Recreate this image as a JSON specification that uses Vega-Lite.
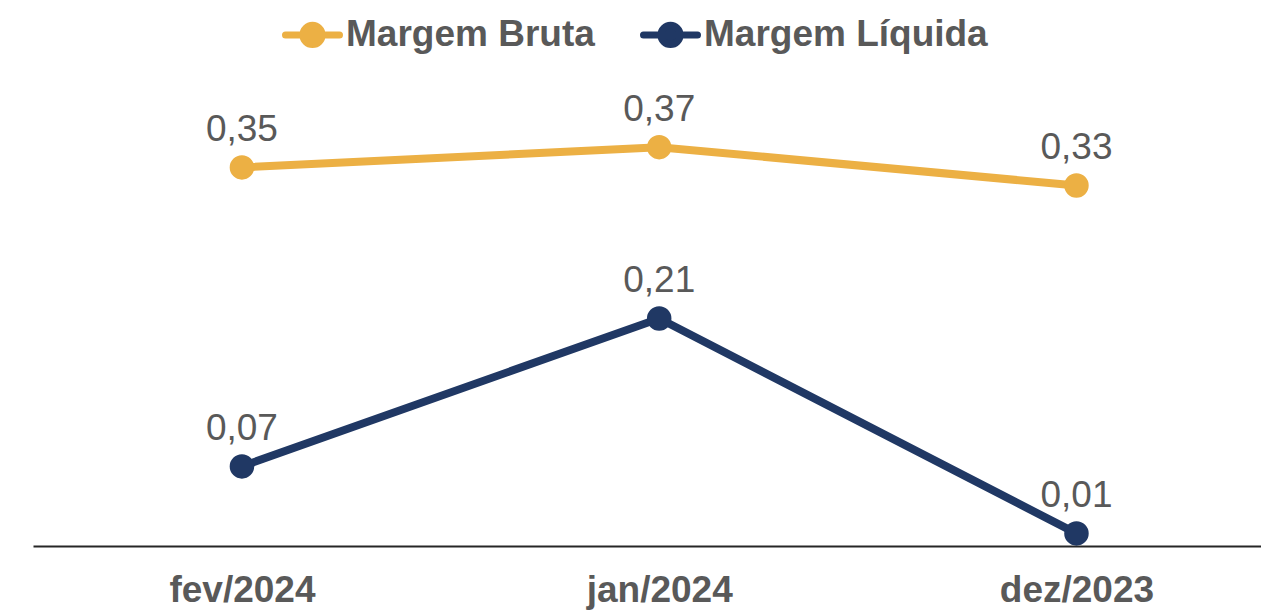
{
  "$schema": "https://vega.github.io/schema/vega-lite/v6.json",
  "width": 1228,
  "height": 532,
  "autosize": "none",
  "padding": {"left": 33, "top": 11, "right": 0, "bottom": 68},
  "background": "white",
  "config": {
    "view": {"stroke": null},
    "font": "Liberation Sans"
  },
  "data": {
    "values": [
      {"periodo": "fev/2024", "serie": "Margem Bruta", "valor": 0.353, "rotulo": "0,35"},
      {"periodo": "jan/2024", "serie": "Margem Bruta", "valor": 0.372, "rotulo": "0,37"},
      {"periodo": "dez/2023", "serie": "Margem Bruta", "valor": 0.336, "rotulo": "0,33"},
      {"periodo": "fev/2024", "serie": "Margem Líquida", "valor": 0.072, "rotulo": "0,07"},
      {"periodo": "jan/2024", "serie": "Margem Líquida", "valor": 0.211, "rotulo": "0,21"},
      {"periodo": "dez/2023", "serie": "Margem Líquida", "valor": 0.009, "rotulo": "0,01"}
    ]
  },
  "encoding": {
    "x": {
      "field": "periodo",
      "type": "ordinal",
      "sort": ["fev/2024", "jan/2024", "dez/2023"],
      "scale": {"type": "point", "padding": 0.4715, "align": 0.531},
      "axis": {
        "title": null,
        "offset": 3,
        "domainColor": "#262626",
        "domainWidth": 2,
        "ticks": false,
        "tickSize": 0,
        "grid": false,
        "labelAngle": 0,
        "labelFont": "Liberation Sans",
        "labelFontSize": 37,
        "labelFontWeight": "bold",
        "labelColor": "#595959",
        "labelBaseline": "alphabetic",
        "labelPadding": 55
      }
    },
    "y": {
      "field": "valor",
      "type": "quantitative",
      "scale": {"domain": [0, 0.5], "nice": false, "zero": true},
      "axis": null
    },
    "color": {
      "field": "serie",
      "type": "nominal",
      "scale": {"domain": ["Margem Bruta", "Margem Líquida"], "range": ["#ECB044", "#203864"]},
      "legend": {
        "title": null,
        "orient": "none",
        "direction": "horizontal",
        "legendX": 246,
        "legendY": -10,
        "padding": 0,
        "symbolType": "M-0.9,0L0.9,0M-0.32,0A0.32,0.32,0,1,1,0.32,0A0.32,0.32,0,1,1,-0.32,0Z",
        "symbolSize": 3600,
        "symbolStrokeWidth": 7,
        "symbolOpacity": 1,
        "labelFont": "Liberation Sans",
        "labelFontSize": 37,
        "labelFontWeight": "bold",
        "labelColor": "#595959",
        "labelOffset": 0,
        "columnPadding": 34,
        "labelLimit": 400,
        "encode": {
          "symbols": {
            "update": {
              "fill": {"scale": "color", "field": "value"},
              "stroke": {"scale": "color", "field": "value"},
              "strokeCap": {"value": "round"},
              "opacity": {"value": 1}
            }
          }
        }
      }
    }
  },
  "layer": [
    {"mark": {"type": "line", "strokeWidth": 8}},
    {"mark": {"type": "point", "filled": true, "size": 600, "opacity": 1}},
    {
      "mark": {
        "type": "text",
        "font": "Liberation Sans",
        "fontSize": 37,
        "baseline": "alphabetic",
        "dy": -26,
        "color": "#595959"
      },
      "encoding": {
        "text": {"field": "rotulo"},
        "color": {"value": "#595959"}
      }
    }
  ]
}
